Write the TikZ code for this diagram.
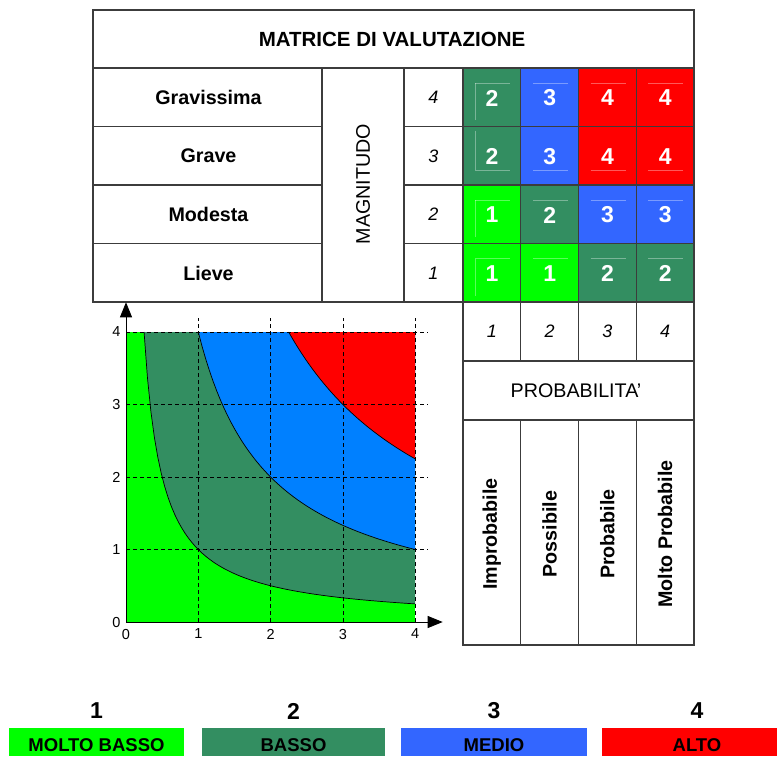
\documentclass[tikz,border=0pt]{standalone}
\usepackage{fontspec}
\setmainfont{Liberation Sans}
\usepackage{tikz}
\usetikzlibrary{arrows.meta}

\definecolor{rischio1}{RGB}{0,255,0}
\definecolor{rischio2}{RGB}{51,142,97}
\definecolor{rischio3}{RGB}{51,102,255}
\definecolor{rischio4}{RGB}{255,0,0}
\definecolor{areablu}{RGB}{0,128,255}
\definecolor{bordo}{RGB}{60,60,60}

\begin{document}
\begin{tikzpicture}[x=1pt,y=-1pt,
        griglia/.style={draw=bordo,line width=1.1pt},
        etic/.style={font=\fontsize{19.7}{19.7}\selectfont\bfseries},
        testo/.style={font=\fontsize{19.7}{19.7}\selectfont},
        num/.style={font=\fontsize{18}{18}\selectfont\itshape},
        cifra/.style={font=\fontsize{23}{23}\selectfont\bfseries,text=white},
        riflesso/.style={draw=white,opacity=0.35,line width=0.8pt},
        asse/.style={font=\fontsize{14.5}{14.5}\selectfont,inner sep=1pt},
        leg/.style={font=\fontsize{18.5}{18.5}\selectfont\bfseries},
        legnum/.style={font=\fontsize{23}{23}\selectfont\bfseries}]
    \useasboundingbox (0,0) rectangle (777,756);

    \foreach \v [count=\k from 0] in {2,3,4,4,2,3,4,4,1,2,3,3,1,1,2,2} {
        \pgfmathtruncatemacro\r{div(\k,4)}
        \pgfmathtruncatemacro\c{mod(\k,4)}
        \pgfmathsetmacro\cx{463+57.75*\c}
        \pgfmathsetmacro\cy{68+58.5*\r}
        \fill[rischio\v] (\cx,\cy) rectangle +(57.75,58.5);
        \ifnum\r=1
            \draw[riflesso] (\cx+12,\cy+43.5) -- (\cx+47,\cy+43.5);
            \ifnum\c=0 \draw[riflesso] (\cx+12,\cy+4) -- (\cx+12,\cy+43.5); \fi
        \else
            \draw[riflesso] (\cx+12,\cy+15) -- (\cx+47,\cy+15);
            \ifnum\c=0 \draw[riflesso] (\cx+12,\cy+15) -- (\cx+12,\cy+52); \fi
        \fi
        \node[cifra] (m\r\c) at (\cx+28.9,\cy+30) {\v};
    }

    \draw[griglia] (93,10) rectangle (694,302);
    \draw[griglia] (93,68) -- (694,68);
    \foreach \y in {126.5,185,243.5} {
        \draw[griglia] (93,\y) -- (322,\y);
        \draw[griglia] (404,\y) -- (694,\y);
    }
    \foreach \x in {322,404} \draw[griglia] (\x,68) -- (\x,302);
    \draw[griglia] (463,68) -- (463,302);
    \foreach \x in {520.75,578.5,636.25} {
        \draw[griglia] (\x,68) -- (\x,361);
        \draw[griglia] (\x,420) -- (\x,645);
    }
    \draw[griglia] (463,302) rectangle (694,645);
    \draw[griglia] (463,361) -- (694,361);
    \draw[griglia] (463,420) -- (694,420);

    \node[etic,font=\fontsize{20.5}{20.5}\selectfont\bfseries] (titolo) at (392,39.5) {MATRICE DI VALUTAZIONE};
    \foreach \t [count=\i from 0] in {Gravissima,Grave,Modesta,Lieve}
        \node[etic] (g\i) at (208.5,{97.5+58.5*\i}) {\t};
    \node[testo,rotate=90] (magnitudo) at (363,184) {MAGNITUDO};
    \foreach \n [count=\i from 0] in {4,3,2,1}
        \node[num] (mag\n) at (433.5,{97.5+58.5*\i}) {\n};
    \foreach \n [count=\i from 0] in {1,2,3,4}
        \node[num] (prob\n) at ({491.9+57.75*\i},331.5) {\n};
    \node[testo] (probabilita) at (576,390.5) {PROBABILITA'};
    \foreach \t [count=\i from 0] in {Improbabile,Possibile,Probabile,Molto Probabile}
        \node[etic,rotate=90] (p\i) at ({491.9+57.75*\i},534) {\t};

    \begin{scope}[shift={(126,622)},x=72.3pt,y=72.5pt]
        \fill[rischio1] (0,0) rectangle (4,4);
        \fill[rischio2] plot[domain=0.25:4,samples=80] (\x,{1/\x}) -- (4,4) -- cycle;
        \fill[areablu] plot[domain=1:4,samples=60] (\x,{4/\x}) -- (4,4) -- cycle;
        \fill[rischio4] plot[domain=2.25:4,samples=40] (\x,{9/\x}) -- (4,4) -- cycle;
        \draw[line width=0.7pt] plot[domain=0.25:4,samples=80] (\x,{1/\x});
        \draw[line width=0.7pt] plot[domain=1:4,samples=60] (\x,{4/\x});
        \draw[line width=0.7pt] plot[domain=2.25:4,samples=40] (\x,{9/\x});
        \foreach \i in {1,...,4} {
            \draw[dash pattern=on 4pt off 3pt,line width=0.8pt] (\i,0) -- (\i,4.19);
            \draw[dash pattern=on 4pt off 3pt,line width=0.8pt] (0,\i) -- (4.18,\i);
        }
        \coordinate (O) at (0,0);
        \coordinate (ytop) at (0,4.41);
        \coordinate (xtop) at (4.38,0);
        \draw[line width=0.8pt,-{Triangle[length=15pt,width=12pt]}] (O) -- (ytop);
        \draw[line width=0.8pt,-{Triangle[length=15pt,width=12pt]}] (O) -- (xtop);
        \foreach \i in {0,...,4} {
            \node[asse,anchor=east] (ey\i) at (-0.06,\i) {\i};
            \node[asse,anchor=north] (ex\i) at (\i,-0.08) {\i};
        }
    \end{scope}

    \fill[rischio1] (9,727.5) rectangle (184,756);
    \fill[rischio2] (202,727.5) rectangle (385,756);
    \fill[rischio3] (401,727.5) rectangle (587,756);
    \fill[rischio4] (602,727.5) rectangle (777,756);
    \foreach \t/\n/\x in {MOLTO BASSO/1/96.5,BASSO/2/293.5,MEDIO/3/494,ALTO/4/697} {
        \node[legnum] (n\n) at (\x,711) {\n};
        \node[leg] (l\n) at (\x,745) {\t};
    }
\end{tikzpicture}
\end{document}
